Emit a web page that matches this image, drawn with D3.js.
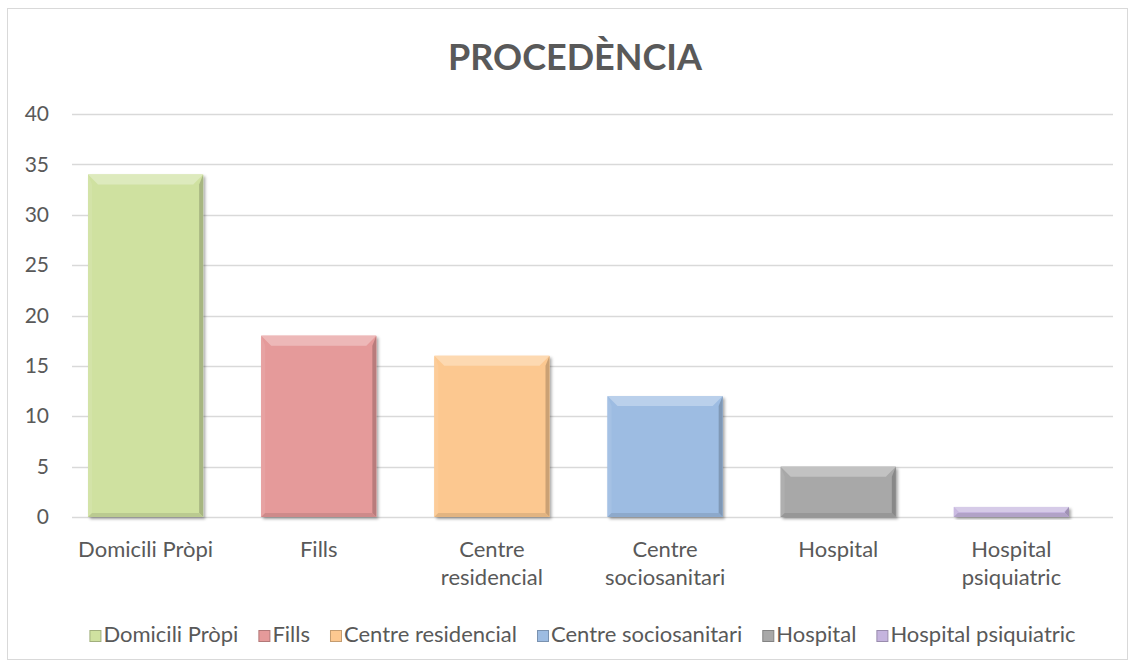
<!DOCTYPE html>
<html><head><meta charset="utf-8">
<script src="https://cdn.jsdelivr.net/npm/d3@7"></script>
<style>
body{margin:0;background:#fff;}
svg{display:block;font-family:Lato,"Open Sans",sans-serif;}
</style></head>
<body>
<svg id="c" width="1134" height="666"></svg>
<script>
const categories = ["Domicili Pròpi","Fills","Centre residencial","Centre sociosanitari","Hospital","Hospital psiquiatric"];
const axisLabels = [["Domicili Pròpi"],["Fills"],["Centre","residencial"],["Centre","sociosanitari"],["Hospital"],["Hospital","psiquiatric"]];
const values = [34,18,16,12,5,1];
const colors = ["#cfe1a0","#e59a9a","#fcc890","#9dbce2","#a8a8a8","#c5b4de"];
const yTicks = [0,5,10,15,20,25,30,35,40];
const title = "PROCEDÈNCIA";

const svg = d3.select("#c");
const W=1134,H=666;
const FS = 22;
svg.append("rect").attr("x",7.5).attr("y",8.5).attr("width",1120).attr("height",651).attr("fill","#fff").attr("stroke","#d9d9d9").attr("stroke-width",1);

const x = d3.scaleBand().domain(categories).range([59,1098]).paddingInner(0.335).paddingOuter(0.1675);
const y = d3.scaleLinear().domain([0,40]).range([517,114]);

const defs = svg.append("defs");
const f = defs.append("filter").attr("id","sh").attr("x","-10%").attr("y","-10%").attr("width","130%").attr("height","130%");
f.append("feDropShadow").attr("dx",2).attr("dy",2).attr("stdDeviation",1.8).attr("flood-color","#000").attr("flood-opacity",0.35);

// gridlines
svg.append("g").selectAll("line").data(yTicks).join("line")
 .attr("x1",72).attr("x2",1113).attr("y1",d=>Math.round(y(d))+0.5).attr("y2",d=>Math.round(y(d))+0.5)
 .attr("stroke","#d9d9d9").attr("stroke-width",1.5);

// y axis labels
const yAxis = d3.axisLeft(y).tickValues(yTicks).tickSize(0).tickPadding(0);
const ga = svg.append("g").attr("transform","translate(49,0)").call(yAxis);
ga.select(".domain").remove();
ga.selectAll("text").attr("font-size",21).attr("fill","#595959").attr("font-family","Lato,sans-serif");

// bars with bevel
const bars = svg.append("g").selectAll("g").data(values).join("g");
bars.each(function(v,i){
  const g = d3.select(this);
  const x0 = x(categories[i]), w = x.bandwidth();
  const y0 = y(v), y1 = y(0), h = y1-y0;
  const c = d3.color(colors[i]);
  const b = Math.min(10, h/2), s = Math.min(4,w/2);
  g.append("rect").attr("x",x0).attr("y",y0).attr("width",w).attr("height",h).attr("fill",colors[i]).attr("filter","url(#sh)");
  g.append("polygon").attr("points",[[x0,y0],[x0+w,y0],[x0+w-b,y0+b],[x0+b,y0+b]].join(" "))
    .attr("fill",d3.interpolateRgb(colors[i],"#fff")(0.3));
  g.append("polygon").attr("points",[[x0,y0],[x0+s,y0+b],[x0+s,y1-s],[x0,y1]].join(" "))
    .attr("fill",d3.interpolateRgb(colors[i],"#fff")(0.08));
  g.append("polygon").attr("points",[[x0+w,y0],[x0+w,y1],[x0+w-s,y1-s],[x0+w-s,y0+b]].join(" "))
    .attr("fill",c.darker(0.6));
  g.append("polygon").attr("points",[[x0,y1],[x0+w,y1],[x0+w-s,y1-s],[x0+s,y1-s]].join(" "))
    .attr("fill",c.darker(0.3));
});

// x labels
const xl = svg.append("g").selectAll("text").data(axisLabels).join("text")
 .attr("x",(d,i)=>x(categories[i])+x.bandwidth()/2).attr("y",557)
 .attr("text-anchor","middle").attr("font-size",FS).attr("fill","#595959");
xl.each(function(d){
  const t=d3.select(this);
  d.forEach((ln,k)=>t.append("tspan").attr("x",t.attr("x")).attr("dy",k?28:0).text(ln));
});

// title
svg.append("text").attr("x",575).attr("y",70).attr("text-anchor","middle")
 .attr("font-size",36).attr("font-weight","bold").attr("fill","#595959").text(title);

// legend
const lg = svg.append("g");
const items = lg.selectAll("g").data(categories).join("g");
items.append("rect").attr("width",11).attr("height",11).attr("x",0.5).attr("y",-11.5).attr("fill",(d,i)=>colors[i])
  .attr("stroke",(d,i)=>d3.color(colors[i]).darker(0.7)).attr("stroke-width",1);
items.append("text").attr("x",14).attr("y",0).attr("font-size",FS).attr("fill","#595959").text(d=>d);
let cx=0; const pos=[];
items.each(function(){ const tw=this.querySelector("text").getComputedTextLength(); pos.push(cx); cx+=14+tw+20; });
const total = cx-20;
const startX = 582.5 - total/2;
items.attr("transform",(d,i)=>`translate(${startX+pos[i]},642)`);
</script>
</body></html>
